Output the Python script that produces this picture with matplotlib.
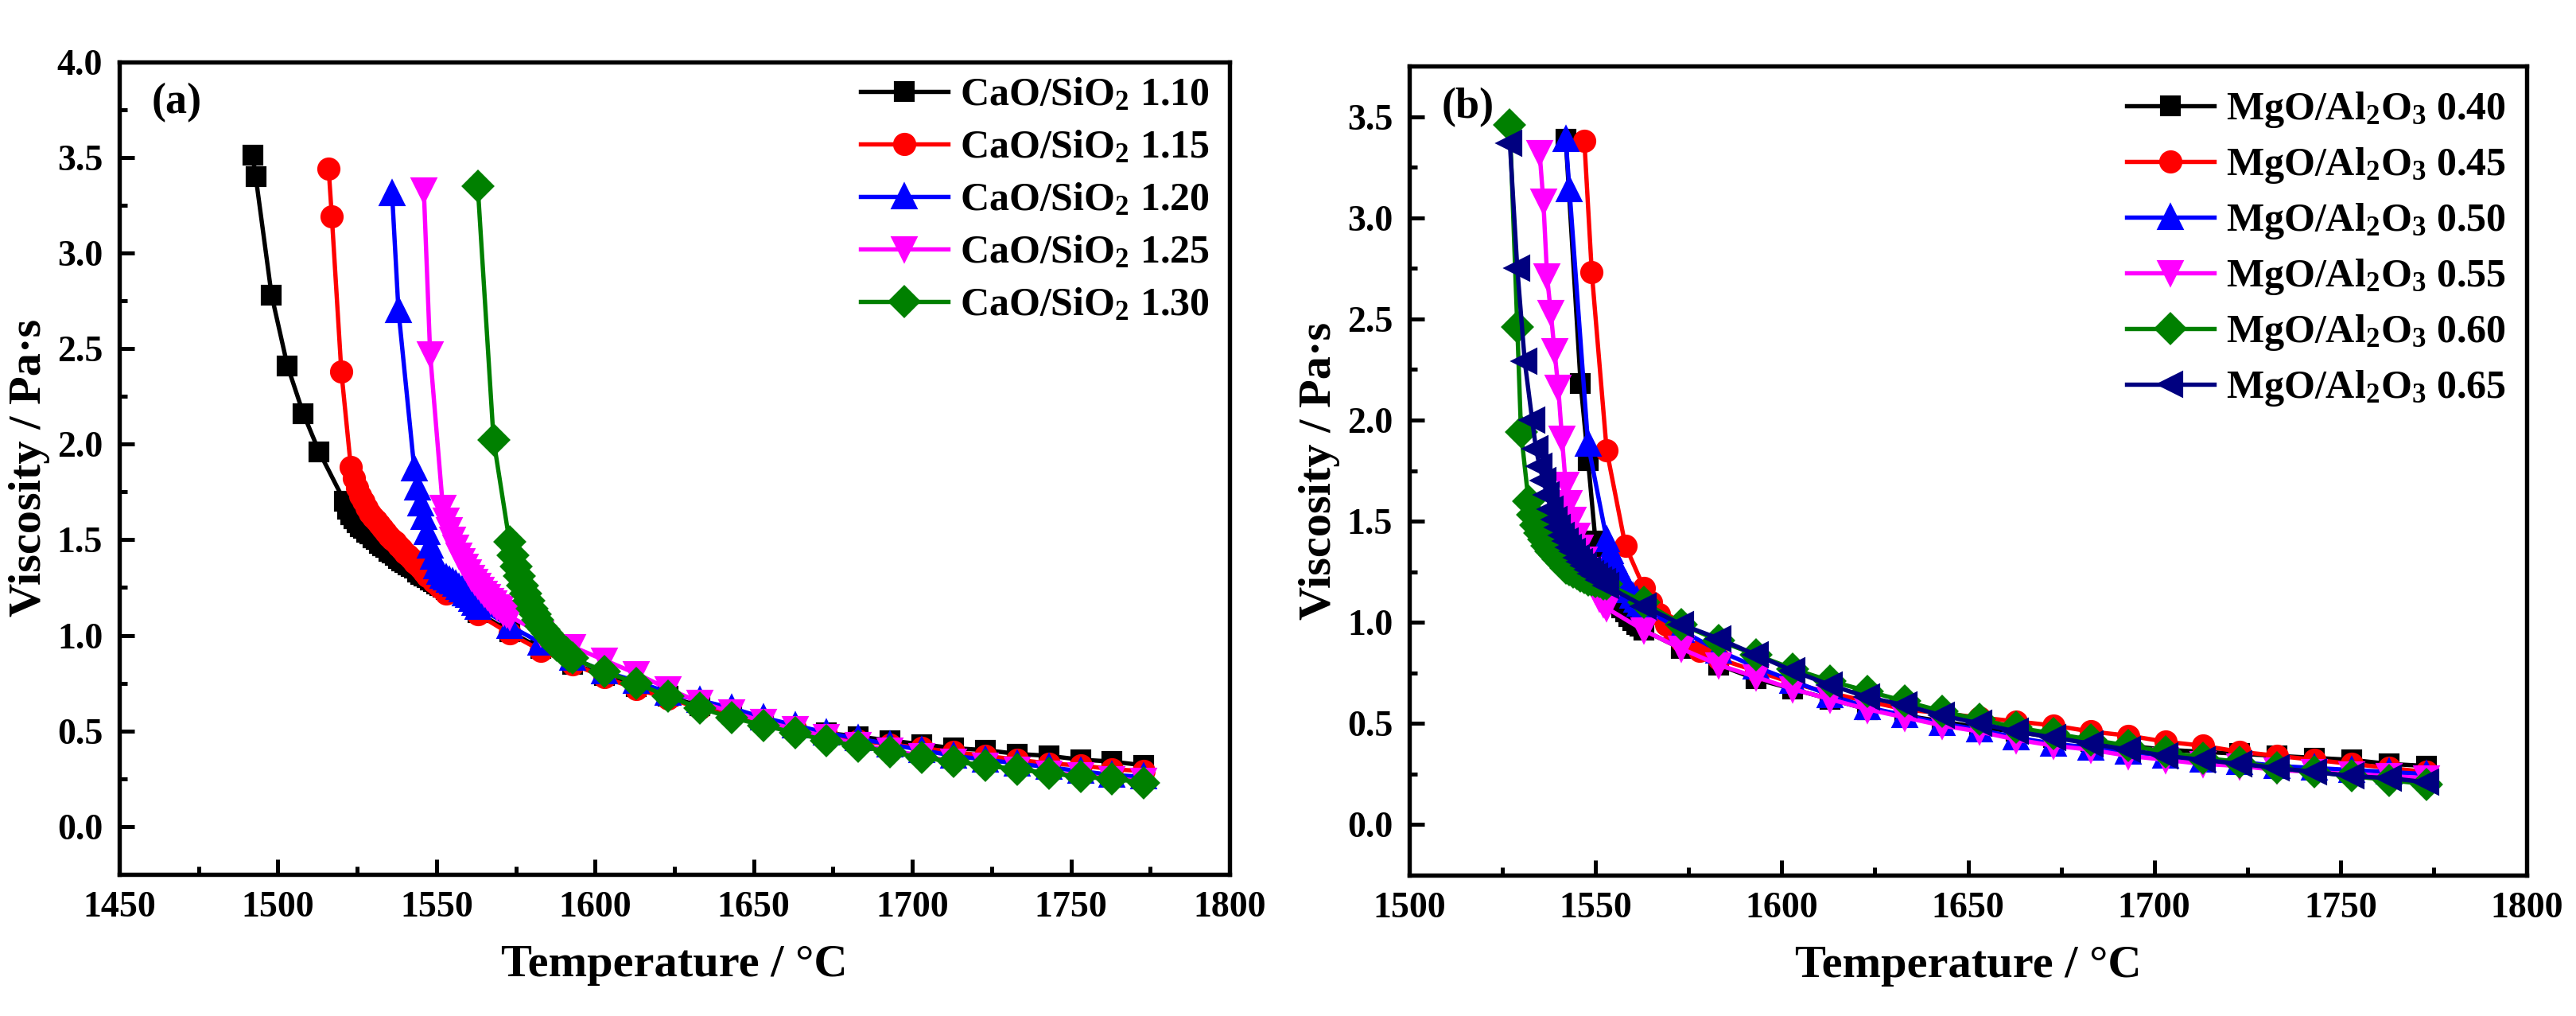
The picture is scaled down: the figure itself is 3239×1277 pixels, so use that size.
import matplotlib as mpl
mpl.use('Agg')
import matplotlib.pyplot as plt
from matplotlib.ticker import MultipleLocator

mpl.rcParams['font.family'] = 'Liberation Serif'
mpl.rcParams['font.weight'] = 'bold'
mpl.rcParams['axes.labelweight'] = 'bold'
mpl.rcParams['mathtext.fontset'] = 'custom'
mpl.rcParams['mathtext.rm'] = 'Liberation Serif:bold'
mpl.rcParams['mathtext.bf'] = 'Liberation Serif:bold'
mpl.rcParams['mathtext.default'] = 'bf'

# ---------------- (a) CaO/SiO2 ----------------
a_labels = ['CaO/SiO$_2$ 1.10', 'CaO/SiO$_2$ 1.15', 'CaO/SiO$_2$ 1.20',
            'CaO/SiO$_2$ 1.25', 'CaO/SiO$_2$ 1.30']

tail_T = [1563, 1573, 1583, 1593, 1603, 1613, 1623, 1633, 1643, 1653, 1663,
          1673, 1683, 1693, 1703, 1713, 1723, 1733, 1743, 1753, 1763, 1773]

a110_T = [1492, 1493, 1498, 1503, 1508, 1513,
          1521, 1522, 1523, 1524, 1525, 1526, 1527, 1528, 1529, 1530, 1531,
          1532, 1533, 1534, 1535, 1536, 1537, 1538, 1539, 1540, 1541, 1542,
          1543, 1544, 1545, 1546, 1547, 1548, 1549, 1550, 1551, 1552, 1553] + tail_T
a110_v = [3.51, 3.40, 2.78, 2.41, 2.16, 1.96,
          1.70, 1.66, 1.63, 1.61, 1.59, 1.57, 1.56, 1.54, 1.53, 1.51, 1.50,
          1.48, 1.47, 1.46, 1.44, 1.43, 1.42, 1.40, 1.39, 1.38, 1.37, 1.36,
          1.35, 1.33, 1.32, 1.31, 1.30, 1.29, 1.28, 1.27, 1.26, 1.25, 1.24,
          1.12, 1.02, 0.93, 0.85, 0.79, 0.73, 0.68, 0.63, 0.59, 0.55, 0.52,
          0.49, 0.47, 0.45, 0.43, 0.41, 0.40, 0.38, 0.37, 0.35, 0.34, 0.32]

a115_T = [1516, 1517, 1520,
          1523, 1524, 1525, 1526, 1527, 1528, 1529, 1530, 1531, 1532, 1533,
          1534, 1535, 1536, 1537, 1538, 1539, 1540, 1541, 1542, 1543, 1544,
          1545, 1546, 1547, 1548, 1549, 1550, 1551, 1552, 1553] + tail_T
a115_v = [3.44, 3.19, 2.38,
          1.88, 1.82, 1.77, 1.73, 1.70, 1.67, 1.64, 1.62, 1.60, 1.58, 1.56,
          1.54, 1.52, 1.50, 1.49, 1.47, 1.45, 1.43, 1.42, 1.40, 1.38, 1.37,
          1.35, 1.33, 1.31, 1.30, 1.28, 1.27, 1.25, 1.24, 1.22,
          1.11, 1.01, 0.92, 0.85, 0.78, 0.72, 0.67, 0.62, 0.58, 0.54, 0.51,
          0.48, 0.45, 0.43, 0.41, 0.39, 0.37, 0.35, 0.33, 0.32, 0.30, 0.29]

a120_T = [1536, 1538,
          1543, 1544, 1545, 1546, 1547, 1548, 1549, 1550, 1551, 1552, 1553,
          1554, 1555, 1556, 1557, 1558, 1559, 1560, 1561, 1562] + tail_T
a120_v = [3.31, 2.70,
          1.87, 1.77, 1.69, 1.62, 1.54, 1.47, 1.41, 1.36, 1.33, 1.31, 1.30,
          1.29, 1.28, 1.27, 1.25, 1.24, 1.22, 1.21, 1.19, 1.17,
          1.15, 1.05, 0.96, 0.88, 0.81, 0.76, 0.70, 0.66, 0.62, 0.57, 0.53,
          0.49, 0.46, 0.43, 0.40, 0.37, 0.35, 0.33, 0.31, 0.29, 0.27, 0.26]

a125_T = [1546, 1548, 1552,
          1553, 1554, 1555, 1556, 1557, 1558, 1559, 1560, 1561, 1562,
          1563, 1564, 1565, 1566, 1567, 1568, 1569, 1570, 1571, 1572,
          1573, 1583, 1593, 1603, 1613, 1623, 1633, 1643, 1653, 1663,
          1673, 1683, 1693, 1703, 1713, 1723, 1733, 1743, 1753, 1763, 1773]
a125_v = [3.33, 2.47, 1.67,
          1.60, 1.55, 1.50, 1.46, 1.42, 1.39, 1.36, 1.33, 1.30, 1.28,
          1.26, 1.24, 1.22, 1.20, 1.18, 1.17, 1.15, 1.14, 1.12, 1.11,
          1.10, 1.01, 0.94, 0.87, 0.80, 0.72, 0.65, 0.60, 0.55, 0.51,
          0.47, 0.43, 0.40, 0.37, 0.34, 0.32, 0.30, 0.28, 0.27, 0.25, 0.24]

a130_T = [1563, 1568,
          1573, 1574, 1575, 1576, 1577, 1578, 1579, 1580, 1581, 1582, 1583,
          1584, 1585, 1586, 1587, 1588, 1589, 1590, 1591, 1592, 1593,
          1603, 1613, 1623, 1633, 1643, 1653, 1663, 1673, 1683, 1693,
          1703, 1713, 1723, 1733, 1743, 1753, 1763, 1773]
a130_v = [3.35, 2.02,
          1.49, 1.42, 1.36, 1.31, 1.26, 1.22, 1.18, 1.14, 1.11, 1.08, 1.05,
          1.03, 1.01, 0.99, 0.97, 0.95, 0.94, 0.92, 0.91, 0.89, 0.88,
          0.81, 0.75, 0.68, 0.62, 0.57, 0.53, 0.49, 0.45, 0.42, 0.39,
          0.36, 0.34, 0.32, 0.30, 0.28, 0.26, 0.25, 0.23]

# ---------------- (b) MgO/Al2O3 ----------------
b_labels = ['MgO/Al$_2$O$_3$ 0.40', 'MgO/Al$_2$O$_3$ 0.45', 'MgO/Al$_2$O$_3$ 0.50',
            'MgO/Al$_2$O$_3$ 0.55', 'MgO/Al$_2$O$_3$ 0.60', 'MgO/Al$_2$O$_3$ 0.65']

b040_T = [1542, 1546, 1548, 1550, 1551, 1552, 1553, 1554, 1555, 1556, 1557,
          1558, 1559, 1560, 1561, 1562] + tail_T
b040_v = [3.39, 2.18, 1.80, 1.40, 1.30, 1.24, 1.19, 1.15, 1.12, 1.09, 1.07,
          1.05, 1.03, 1.01, 0.99, 0.98,
          0.96, 0.87, 0.79, 0.72, 0.67, 0.62, 0.57, 0.54, 0.51, 0.48, 0.46,
          0.43, 0.41, 0.39, 0.37, 0.36, 0.35, 0.34, 0.33, 0.32, 0.30, 0.29]

b045_T = [1547, 1549, 1553, 1558, 1563, 1565, 1567, 1569, 1571, 1573, 1578,
          1583, 1593, 1603, 1613, 1623, 1633, 1643, 1653, 1663, 1673, 1683,
          1693, 1703, 1713, 1723, 1733, 1743, 1753, 1763, 1773]
b045_v = [3.38, 2.73, 1.85, 1.38, 1.17, 1.10, 1.04, 0.99, 0.95, 0.91, 0.86,
          0.82, 0.76, 0.70, 0.65, 0.61, 0.57, 0.55, 0.53, 0.51, 0.49, 0.46,
          0.44, 0.41, 0.39, 0.36, 0.34, 0.32, 0.30, 0.28, 0.26]

b050_T = [1542, 1543, 1548, 1553, 1554, 1555, 1556, 1557, 1558, 1559, 1560,
          1561, 1562] + tail_T
b050_v = [3.39, 3.14, 1.88, 1.41, 1.35, 1.30, 1.26, 1.22, 1.19, 1.16, 1.13,
          1.11, 1.09,
          1.07, 0.96, 0.86, 0.78, 0.71, 0.64, 0.58, 0.54, 0.50, 0.47, 0.43,
          0.40, 0.38, 0.36, 0.34, 0.32, 0.31, 0.29, 0.28, 0.27, 0.26, 0.25]

b055_T = [1535, 1536, 1537, 1538, 1539, 1540, 1541, 1542, 1543, 1544, 1545,
          1546, 1547, 1548, 1549, 1550, 1551, 1552, 1553] + tail_T
b055_v = [3.32, 3.08, 2.71, 2.53, 2.34, 2.16, 1.91, 1.68, 1.59, 1.51, 1.43,
          1.37, 1.31, 1.26, 1.21, 1.16, 1.12, 1.09, 1.07,
          0.96, 0.87, 0.79, 0.73, 0.67, 0.62, 0.57, 0.53, 0.49, 0.46, 0.42,
          0.39, 0.37, 0.34, 0.32, 0.30, 0.29, 0.27, 0.26, 0.25, 0.24, 0.23]

b060_T = [1527, 1529, 1530, 1532, 1533, 1534, 1535, 1536, 1537, 1538, 1539,
          1540, 1541, 1542, 1543, 1544, 1545, 1546, 1547, 1548, 1549, 1550,
          1551, 1552, 1553] + tail_T
b060_v = [3.46, 2.46, 1.94, 1.60, 1.53, 1.48, 1.44, 1.41, 1.38, 1.35, 1.33,
          1.31, 1.29, 1.27, 1.26, 1.25, 1.24, 1.23, 1.22, 1.21, 1.21, 1.20,
          1.20, 1.19, 1.19,
          1.10, 0.99, 0.91, 0.84, 0.77, 0.71, 0.66, 0.61, 0.56, 0.52, 0.48,
          0.45, 0.42, 0.39, 0.36, 0.33, 0.31, 0.28, 0.26, 0.24, 0.22, 0.20]

b065_T = [1527, 1529, 1531, 1533, 1534, 1535, 1536, 1537, 1538, 1539, 1540,
          1541, 1542, 1543, 1544, 1545, 1546, 1547, 1548, 1549, 1550, 1551,
          1552, 1553] + tail_T
b065_v = [3.37, 2.75, 2.29, 2.00, 1.86, 1.77, 1.70, 1.63, 1.56, 1.51, 1.47,
          1.43, 1.40, 1.37, 1.35, 1.32, 1.30, 1.28, 1.26, 1.24, 1.23, 1.21,
          1.20, 1.18,
          1.08, 0.99, 0.92, 0.84, 0.76, 0.69, 0.63, 0.59, 0.54, 0.50, 0.46,
          0.43, 0.40, 0.37, 0.34, 0.32, 0.30, 0.28, 0.26, 0.24, 0.23, 0.21]

colors = ['black', '#FF0000', '#0000FF', '#FF00FF', '#008000', '#000080']
markers = ['s', 'o', '^', 'v', 'D', '<']
msizes = [5.5, 6.0, 6.5, 6.5, 6.0, 6.5]


def style_axes(ax, xlim, ylim, tag):
    ax.set_xlim(*xlim)
    ax.set_ylim(*ylim)
    ax.xaxis.set_major_locator(MultipleLocator(50))
    ax.xaxis.set_minor_locator(MultipleLocator(25))
    ax.yaxis.set_major_locator(MultipleLocator(0.5))
    ax.yaxis.set_minor_locator(MultipleLocator(0.25))
    ax.yaxis.set_major_formatter(mpl.ticker.FormatStrFormatter('%.1f'))
    ax.tick_params(which='both', direction='in', top=False, right=False,
                   width=1.2, labelsize=11)
    ax.tick_params(which='major', length=4.5, pad=5)
    ax.tick_params(which='minor', length=2.3)
    for sp in ax.spines.values():
        sp.set_linewidth(1.3)
    for lb in ax.get_xticklabels() + ax.get_yticklabels():
        lb.set_fontweight('bold')
    ax.set_xlabel('Temperature / °C', fontsize=14, fontweight='bold', labelpad=6)
    ax.set_ylabel('Viscosity / Pa·s', fontsize=14, fontweight='bold', labelpad=2)
    ax.text(0.029, 0.949, tag, transform=ax.transAxes, fontsize=13,
            fontweight='bold', va='center', ha='left')


fig = plt.figure(figsize=(3239 / 300, 1277 / 300), dpi=300)
ax1 = fig.add_axes([150 / 3239, 1 - 1099 / 1277, 1396 / 3239, 1021.5 / 1277])
ax2 = fig.add_axes([1772 / 3239, 1 - 1100 / 1277, 1405 / 3239, 1017 / 1277])

a_T = [a110_T, a115_T, a120_T, a125_T, a130_T]
a_v = [a110_v, a115_v, a120_v, a125_v, a130_v]
for i in range(len(a_T)):
    ax1.plot(a_T[i], a_v[i], color=colors[i], marker=markers[i], ms=msizes[i],
             lw=1.3, label=a_labels[i])

b_T = [b040_T, b045_T, b050_T, b055_T, b060_T, b065_T]
b_v = [b040_v, b045_v, b050_v, b055_v, b060_v, b065_v]
for i in range(len(b_T)):
    ax2.plot(b_T[i], b_v[i], color=colors[i], marker=markers[i], ms=msizes[i],
             lw=1.3, label=b_labels[i])

style_axes(ax1, (1450, 1800), (-0.25, 4.0), '(a)')
style_axes(ax2, (1500, 1800), (-0.25, 3.75), '(b)')

leg_kw = dict(loc='upper right', frameon=False, handlelength=2.2,
              handletextpad=0.3, labelspacing=0.4, borderaxespad=0,
              prop={'family': 'Liberation Serif', 'weight': 'bold', 'size': 12})
ax1.legend(bbox_to_anchor=(0.996, 1.0), **leg_kw)
ax2.legend(bbox_to_anchor=(0.996, 0.99), **leg_kw)

fig.savefig('out.png', dpi=300)
